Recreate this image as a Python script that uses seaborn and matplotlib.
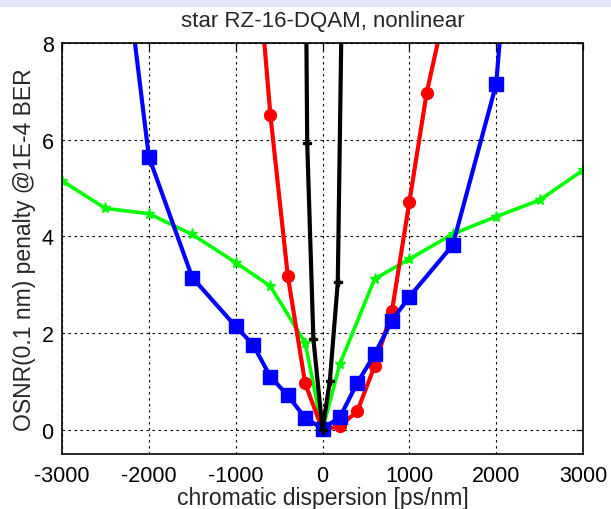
import numpy as np
import pandas as pd
import matplotlib
matplotlib.use("Agg")
import matplotlib.pyplot as plt
import seaborn as sns
from matplotlib.patches import Rectangle

# ---- data ----
blue_x = [-2500, -2000, -1500, -1000, -800, -600, -400, -200, 0, 200, 400, 600, 800, 1000, 1500, 2000, 2500]
blue_y = [13.0, 5.65, 3.15, 2.14, 1.76, 1.10, 0.71, 0.25, 0.02, 0.26, 0.97, 1.56, 2.26, 2.75, 3.82, 7.15, 18.0]

red_x = [-800, -600, -400, -200, 0, 200, 400, 600, 800, 1000, 1200, 1400]
red_y = [10.8, 6.51, 3.19, 0.96, 0.0, 0.08, 0.38, 1.32, 2.46, 4.71, 6.97, 8.6]

green_x = [-3000, -2500, -2000, -1500, -1000, -600, -200, 0, 200, 600, 1000, 1500, 2000, 2500, 3000]
green_y = [5.15, 4.58, 4.47, 4.04, 3.46, 2.97, 1.80, 0.0, 1.36, 3.12, 3.53, 4.05, 4.41, 4.75, 5.37]

black_x = [-192, -176, -105, 0, 85, 176, 225]
black_y = [9.6, 5.93, 1.88, 0.0, 1.02, 3.05, 9.2]

title = "star RZ-16-DQAM, nonlinear"
xlabel = "chromatic dispersion [ps/nm]"
ylabel = "OSNR(0.1 nm) penalty @1E-4 BER"
xticks = [-3000, -2000, -1000, 0, 1000, 2000, 3000]
yticks = [0, 2, 4, 6, 8]

sns.set_style("white")
plt.rcParams['font.family'] = ['Liberation Sans', 'DejaVu Sans']
plt.rcParams['axes.unicode_minus'] = False

fig = plt.figure(figsize=(6.11, 5.10), dpi=100)
fig.patch.set_facecolor("white")
fig.patches.append(Rectangle((0, 1 - 8 / 510), 1, 8 / 510, transform=fig.transFigure,
                             facecolor="#e6e6fa", edgecolor="none", zorder=0))
ax = fig.add_axes([62 / 611, (510 - 455) / 510, (583 - 62) / 611, (455 - 44) / 510])

series = [
    (green_x, green_y, "#00ff00", "*", 8, 2.6),
    (red_x, red_y, "#ff0000", "o", 8.5, 3.0),
    (blue_x, blue_y, "#0000ff", "s", 9.5, 3.0),
    (black_x, black_y, "#000000", "P", 5.5, 3.0),
]
for xs, ys, c, m, ms, lw in series:
    df = pd.DataFrame({"x": xs, "y": ys})
    sns.lineplot(data=df, x="x", y="y", ax=ax, sort=False, color=c, marker=m,
                 markersize=ms, linewidth=lw, markeredgecolor=c, markeredgewidth=1,
                 estimator=None)

ax.set_xlim(-3000, 3000)
ax.set_ylim(-0.5, 8)
ax.set_xticks(xticks)
ax.set_yticks(yticks)
ax.set_xticklabels([str(t) for t in xticks])
ax.set_yticklabels([str(t) for t in yticks])
ax.grid(True, color="black", linestyle=(0, (2.2, 3.2)), linewidth=0.8)
ax.set_axisbelow(True)
for s in ax.spines.values():
    s.set_color("black")
    s.set_linewidth(1.2)
ax.tick_params(direction="in", length=5, width=0.9, top=True, right=True,
               labelsize=15.5, colors="black")
ax.tick_params(axis="x", pad=8)
ax.tick_params(axis="y", pad=6)
ax.set_title(title, fontsize=16, pad=12)
ax.set_xlabel(xlabel, fontsize=16.5, labelpad=0)
ax.set_ylabel(ylabel, fontsize=16.5, labelpad=4)

fig.savefig("out.png", dpi=100)
